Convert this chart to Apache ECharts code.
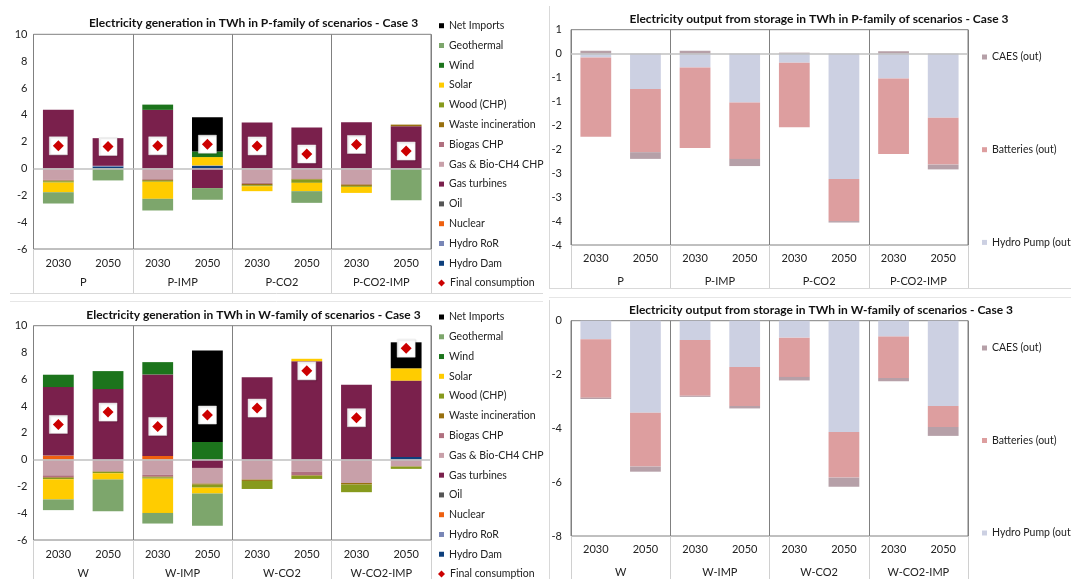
<!DOCTYPE html>
<html>
<head>
<meta charset="utf-8">
<script src="https://cdn.jsdelivr.net/npm/echarts@6/dist/echarts.min.js"></script>
<style>
html,body{margin:0;padding:0;background:#fff;}
#c{width:1071px;height:579px;}
</style>
</head>
<body>
<div id="c"></div>
<script>
// ---------- DATA ----------
const years = ['2030','2050','2030','2050','2030','2050','2030','2050'];
const groupsP = ['P','P-IMP','P-CO2','P-CO2-IMP'];
const groupsW = ['W','W-IMP','W-CO2','W-CO2-IMP'];

// P-family generation (TWh)
const pHydroDam   = [0, 0.15, 0, 0.2, 0, 0, 0, 0];
const pHydroRoR   = [0, 0.05, 0, 0.03, 0, 0, 0, 0];
const pNuclear    = [0, 0, 0, 0, 0, 0, 0, 0];
const pOil        = [0, 0, 0, 0, 0, 0, 0, 0];
const pGasTurb    = [4.37, 2.06, 4.37, -1.46, 3.42, 3.05, 3.45, 3.15];
const pGasBioCHP  = [-0.85, 0, -0.79, 0, -1.07, -0.74, -1.12, 0];
const pBiogasCHP  = [-0.05, 0, -0.06, 0, -0.08, -0.04, -0.08, 0];
const pWaste      = [-0.05, 0, -0.07, 0, -0.1, -0.05, -0.1, 0.12];
const pWood       = [-0.1, 0, -0.07, 0, -0.07, -0.24, -0.07, 0];
const pSolar      = [-0.72, 0, -1.27, 0.62, -0.37, -0.62, -0.45, 0];
const pWind       = [0, 0, 0.39, 0.42, 0, 0, 0, 0];
const pGeothermal = [-0.84, -0.89, -0.87, -0.87, 0, -0.87, 0, -2.36];
const pNetImports = [0, 0, 0, 2.55, 0, 0, 0, 0];
const pFinalCons  = [1.69, 1.64, 1.69, 1.81, 1.68, 1.08, 1.79, 1.3];

// W-family generation (TWh)
const wHydroDam   = [0, 0, 0, 0, 0, 0, 0, 0.2];
const wHydroRoR   = [0, 0, 0, 0, 0, 0, 0, 0];
const wNuclear    = [0.3, 0, 0.28, 0, 0, 0, 0, 0];
const wOil        = [0, 0, 0, 0, 0, 0, 0, 0];
const wGasTurb    = [5.12, 5.27, 6.08, -0.62, 6.16, 7.35, 5.59, 5.7];
const wGasBioCHP  = [-1.17, -0.87, -1.12, -1.17, -1.49, -0.89, -1.74, -0.5];
const wBiogasCHP  = [-0.15, -0.02, -0.15, 0, 0, -0.28, 0, 0];
const wWaste      = [-0.05, -0.03, -0.05, -0.08, -0.1, -0.04, -0.12, -0.03];
const wWood       = [-0.1, -0.1, -0.1, -0.22, -0.6, -0.23, -0.57, -0.16];
const wSolar      = [-1.5, -0.47, -2.56, -0.44, 0, 0.18, 0, 0.92];
const wWind       = [0.92, 1.34, 0.92, 1.32, 0, 0, 0, 0];
const wGeothermal = [-0.8, -2.36, -0.79, -2.41, 0, 0, 0, 0];
const wNetImports = [0, 0, 0, 6.83, 0, 0, 0, 1.94];
const wFinalCons  = [2.63, 3.55, 2.48, 3.33, 3.85, 6.63, 3.13, 8.32];

// Storage output (TWh)
const pHydroPump  = [-0.08, -0.74, -0.29, -1.02, -0.19, -2.62, -0.52, -1.34];
const pBatteries  = [-1.66, -1.32, -1.68, -1.18, -1.35, -0.88, -1.58, -0.98];
const pCAES       = [0.06, -0.14, 0.06, -0.15, 0.02, -0.03, 0.05, -0.1];
const wHydroPump  = [-0.69, -3.42, -0.72, -1.72, -0.63, -4.14, -0.59, -3.17];
const wBatteries  = [-2.17, -2.0, -2.07, -1.45, -1.46, -1.69, -1.54, -0.78];
const wCAES       = [-0.05, -0.19, -0.04, -0.09, -0.13, -0.34, -0.12, -0.33];

// ---------- STYLE ----------
const FONT = 'Lato';
const genNames = ['Hydro Dam','Hydro RoR','Nuclear','Oil','Gas turbines','Gas & Bio-CH4 CHP','Biogas CHP','Waste incineration','Wood (CHP)','Solar','Wind','Geothermal','Net Imports'];
const genColors = {
  'Hydro Dam':'#0d3f7c','Hydro RoR':'#7886b6','Nuclear':'#ee6010','Oil':'#555555',
  'Gas turbines':'#7a204c','Gas & Bio-CH4 CHP':'#c8a0a9','Biogas CHP':'#b0707f',
  'Waste incineration':'#98700f','Wood (CHP)':'#879a1d','Solar':'#ffcc00',
  'Wind':'#1c741c','Geothermal':'#7da66c','Net Imports':'#000000'
};
const stoNames = ['Hydro Pump (out)','Batteries (out)','CAES (out)'];
const stoColors = {'Hydro Pump (out)':'#ccd0e2','Batteries (out)':'#dd9e9f','CAES (out)':'#b6a0a8'};

const pGen = [pHydroDam,pHydroRoR,pNuclear,pOil,pGasTurb,pGasBioCHP,pBiogasCHP,pWaste,pWood,pSolar,pWind,pGeothermal,pNetImports];
const wGen = [wHydroDam,wHydroRoR,wNuclear,wOil,wGasTurb,wGasBioCHP,wBiogasCHP,wWaste,wWood,wSolar,wWind,wGeothermal,wNetImports];
const pSto = [pHydroPump,pBatteries,pCAES];
const wSto = [wHydroPump,wBatteries,wCAES];

const grids = [
  {left:33.5, top:34.3, width:397.5, height:214.7},
  {left:33.5, top:325.7, width:397.5, height:214.3},
  {left:571, top:29.7, width:397, height:215.3},
  {left:571, top:320.7, width:397, height:215.3}
];
const axisTxt = {fontFamily:FONT, fontSize:11, color:'#222'};

const xAxes = [];
const yAxes = [];
function addAxes(gi, groups, tickLen, yrMargin, grMargin){
  xAxes.push({gridIndex:gi, type:'category', data:years, position:'bottom', boundaryGap:true,
    axisLine:{show:false}, axisTick:{show:false}, splitLine:{show:false},
    axisLabel:Object.assign({margin:yrMargin, interval:0}, axisTxt)});
  xAxes.push({gridIndex:gi, type:'category', data:groups, position:'bottom', boundaryGap:true,
    axisLine:{show:false},
    axisTick:{show:true, interval:0, length:tickLen, lineStyle:{color:'#d0d0d0'}},
    splitLine:{show:true, interval:0, lineStyle:{color:'#808080', width:1}},
    axisLabel:Object.assign({margin:grMargin, interval:0}, axisTxt)});
}
addAxes(0, groupsP, 44, 9, 28);
addAxes(1, groupsW, 44, 9, 28);
addAxes(2, groupsP, 43, 8, 31);
addAxes(3, groupsW, 43, 8, 31);

const roundExcel = v => { const r = Math.sign(v)*Math.round(Math.abs(v)+1e-9); return (r===0? '0' : String(r)); };
yAxes.push({gridIndex:0, type:'value', min:-6, max:10, interval:2, axisLine:{show:false}, axisTick:{show:false}, splitLine:{show:false}, axisLabel:Object.assign({margin:6}, axisTxt)});
yAxes.push({gridIndex:1, type:'value', min:-6, max:10, interval:2, axisLine:{show:false}, axisTick:{show:false}, splitLine:{show:false}, axisLabel:Object.assign({margin:6}, axisTxt)});
yAxes.push({gridIndex:2, type:'value', min:-4, max:0.5, interval:0.5, axisLine:{show:false}, axisTick:{show:false}, splitLine:{show:false}, axisLabel:Object.assign({margin:9, formatter:roundExcel}, axisTxt)});
yAxes.push({gridIndex:3, type:'value', min:-8, max:0, interval:2, axisLine:{show:false}, axisTick:{show:false}, splitLine:{show:false}, axisLabel:Object.assign({margin:9}, axisTxt)});

const series = [];
const zeroLine = {silent:true, symbol:'none', label:{show:false}, lineStyle:{color:'#c0c0c0', width:1.5, type:'solid'}, data:[{yAxis:0}]};
function addBars(names, colors, arrs, xi, yi, stack, withZero){
  names.forEach((n,i)=>{
    const s = {name:n, type:'bar', stack:stack, xAxisIndex:xi, yAxisIndex:yi, barWidth:'62%',
      data:arrs[i], itemStyle:{color:colors[n]}, emphasis:{disabled:true}};
    if(i===0 && withZero) s.markLine = zeroLine;
    series.push(s);
  });
}
function addFinal(arr, xi, yi){
  series.push({name:'fcbox', type:'scatter', xAxisIndex:xi, yAxisIndex:yi, data:arr, symbol:'rect', symbolSize:18,
    itemStyle:{color:'#ffffff', opacity:1, borderColor:'#e6e6e6', borderWidth:0.5, shadowBlur:1.5, shadowColor:'rgba(0,0,0,0.25)', shadowOffsetX:1, shadowOffsetY:1}, z:3, emphasis:{disabled:true}});
  series.push({name:'Final consumption', type:'scatter', xAxisIndex:xi, yAxisIndex:yi, data:arr, symbol:'diamond', symbolSize:11,
    itemStyle:{color:'#cc0000', opacity:1}, z:4, emphasis:{disabled:true}});
}
addBars(genNames, genColors, pGen, 0, 0, 'pg', true);
addFinal(pFinalCons, 0, 0);
addBars(genNames, genColors, wGen, 2, 1, 'wg', true);
addFinal(wFinalCons, 2, 1);
addBars(stoNames, stoColors, pSto, 4, 2, 'ps', true);
addBars(stoNames, stoColors, wSto, 6, 3, 'ws', false);

const genLegend = genNames.slice().reverse();
const stoLegend = stoNames.slice().reverse();
const legTxt = {fontFamily:FONT, fontSize:10.5, color:'#222'};
function leg(left, top, data, gap, icon, w){
  return {orient:'vertical', left:left, top:top, data:data, itemWidth:w||5, itemHeight:w||5, itemGap:gap,
    icon:icon||'rect', textStyle:legTxt, selectedMode:false, padding:0, height:400};
}
const legends = [
  leg(439, 20.2, genLegend, 8.8),
  leg(438, 277.6, ['Final consumption'], 8.8, 'diamond', 7),
  leg(439, 311.5, genLegend, 8.77),
  leg(438, 568.6, ['Final consumption'], 8.8, 'diamond', 7),
  leg(982, 51.5, stoLegend, 81.7),
  leg(982, 342.5, stoLegend, 81.5)
];

function title(x, y, t){
  return {type:'text', x:x, y:y, silent:true, style:{text:t, textAlign:'center', textVerticalAlign:'middle', font:'bold 12px '+FONT, fill:'#111'}};
}
function line(x1,y1,x2,y2,c){
  return {type:'line', silent:true, shape:{x1:x1,y1:y1,x2:x2,y2:y2}, style:{stroke:c||'#d9d9d9', lineWidth:1}};
}
const graphics = [
  title(253.5, 23.3, 'Electricity generation in TWh in P-family of scenarios - Case 3'),
  title(253.5, 314.7, 'Electricity generation in TWh in W-family of scenarios - Case 3'),
  title(819, 18.7, 'Electricity output from storage in TWh in P-family of scenarios - Case 3'),
  title(821, 310, 'Electricity output from storage in TWh in W-family of scenarios - Case 3'),
  line(10, 293.5, 543, 293.5),
  line(549.5, 6, 549.5, 288),
  line(549, 288.5, 1071, 288.5),
  line(549, 297.5, 1071, 297.5, '#e6e6e6'),
  line(10, 301.5, 543, 301.5, '#e6e6e6'),
  line(549.5, 300, 549.5, 579)
];

const chart = echarts.init(document.getElementById('c'), null, {renderer:'canvas'});
chart.setOption({
  animation:false,
  backgroundColor:'#ffffff',
  grid: grids.map(g => Object.assign({show:true, borderColor:'#808080', borderWidth:1, backgroundColor:'transparent', containLabel:false}, g)),
  xAxis: xAxes,
  yAxis: yAxes,
  legend: legends,
  series: series,
  graphic: graphics
});
</script>
</body>
</html>
